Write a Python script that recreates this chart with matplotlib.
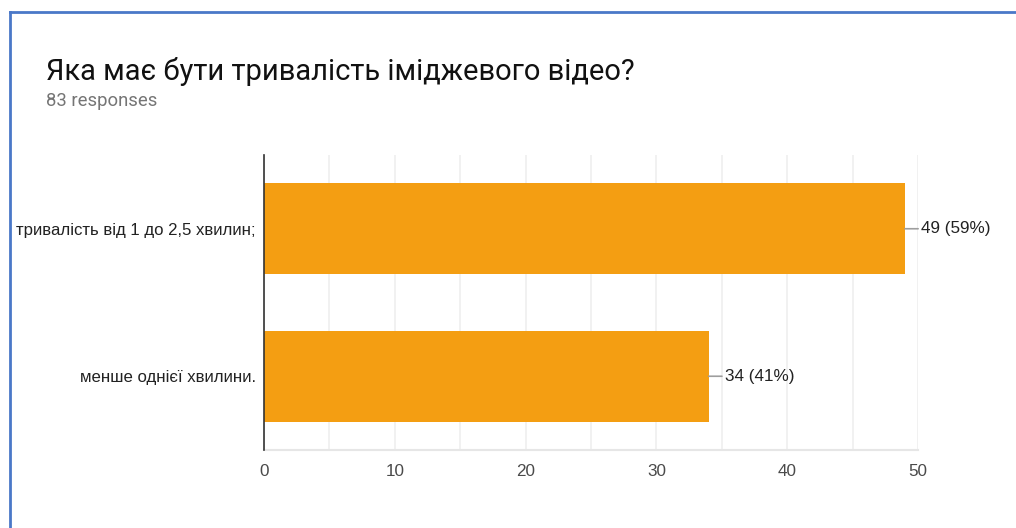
import matplotlib.pyplot as plt
from matplotlib.lines import Line2D
from matplotlib.ticker import MultipleLocator

# дані з форми
categories = ["тривалість від 1 до 2,5 хвилин;", "менше однієї хвилини."]
counts = [49, 34]
total = 83
title = "Яка має бути тривалість іміджевого відео?"
subtitle = "83 responses"

W, H = 1016, 528
fig = plt.figure(figsize=(W / 100, H / 100), dpi=100)
fig.patch.set_facecolor("white")

ax = fig.add_axes([264 / W, 1 - 450 / H, (918 - 264) / W, (450 - 155) / H])
ypos = list(range(len(categories)))
ax.barh(ypos, counts, height=0.62, color="#f49e12", zorder=3)

ax.set_xlim(0, 50)
ax.set_ylim(1.5, -0.5)
ax.xaxis.set_major_locator(MultipleLocator(10))
ax.xaxis.set_minor_locator(MultipleLocator(5))
ax.grid(axis="x", which="both", color="#efefef", linewidth=1.2, zorder=0)
ax.tick_params(axis="x", which="both", length=0, pad=10, labelsize=12.3,
               labelcolor="#4a4a4a")
ax.tick_params(axis="y", length=0, pad=6, labelsize=12.1, labelcolor="#222222")
ax.set_yticks(ypos)
ax.set_yticklabels(categories)
for lab in ax.get_xticklabels() + ax.get_yticklabels():
    lab.set_family("Liberation Sans")

for s in ["top", "right"]:
    ax.spines[s].set_visible(False)
ax.spines["bottom"].set_color("#e6e6e6")
ax.spines["bottom"].set_linewidth(1.5)
ax.spines["left"].set_color("#333333")
ax.spines["left"].set_linewidth(1.2)
ax.spines["left"].set_zorder(4)

# підписи значень з лінією-виноскою
for y, c in zip(ypos, counts):
    ax.annotate("%d (%d%%)" % (c, round(100 * c / total)), xy=(c, y),
                xytext=(16, 0), textcoords="offset pixels", va="center",
                ha="left", fontsize=12.3, color="#222222",
                family="Liberation Sans",
                arrowprops=dict(arrowstyle="-", color="#9e9e9e", lw=1.2,
                                shrinkA=0, shrinkB=0))

fig.text(46 / W, 1 - 72 / H, title, fontsize=21, family="Roboto",
         color="#111111", va="center", ha="left")
fig.text(46 / W, 1 - 101 / H, subtitle, fontsize=13.3, family="Roboto",
         color="#757575", va="center", ha="left")

# синя рамка скріншоту
fig.add_artist(Line2D([10 / W, 1], [1 - 12 / H, 1 - 12 / H], color="#4a78c8",
                      linewidth=2, transform=fig.transFigure))
fig.add_artist(Line2D([10 / W, 10 / W], [0, 1 - 12 / H], color="#4a78c8",
                      linewidth=2, transform=fig.transFigure))

fig.savefig("out.png", dpi=100)
